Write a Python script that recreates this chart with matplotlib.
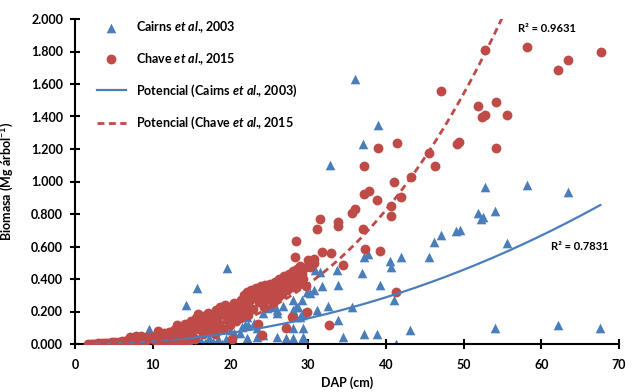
import numpy as np
import matplotlib
matplotlib.use("Agg")
import matplotlib.pyplot as plt

# fuentes: Lato (parecida a Calibri) en negrita
plt.rcParams['font.family'] = ['Lato', 'DejaVu Sans']
plt.rcParams['font.weight'] = 'bold'
plt.rcParams['mathtext.fontset'] = 'custom'
plt.rcParams['mathtext.rm'] = 'Lato:bold'
plt.rcParams['mathtext.it'] = 'Lato:italic:bold'
plt.rcParams['mathtext.bf'] = 'Lato:bold'

# Cairns et al., 2003 (DAP cm, biomasa Mg/arbol)
cairns_dap = [2.6, 3.5, 4.3, 5.2, 6.0, 6.8, 7.3, 8.0, 8.6, 9.5, 10.1, 10.8, 11.6, 12.3,
              12.9, 13.6, 14.2, 14.3, 15.2, 15.2, 15.7, 16.2, 16.7, 17.2, 17.8, 17.8,
              18.4, 18.9, 19.4, 19.5, 19.9, 20.0, 20.4, 20.4, 21.2, 21.5, 21.9, 22.1,
              22.1, 22.3, 22.3, 23.0, 23.4, 23.4, 24.2, 24.2, 24.7, 25.1, 25.5, 26.0,
              26.0, 26.0, 26.8, 27.2, 27.2, 28.1, 28.1, 28.1, 28.1, 28.3, 28.5, 28.5,
              28.7, 29.0, 29.2, 29.2, 29.3, 29.3, 29.4, 29.4, 29.8, 29.8, 30.2, 30.8,
              30.9, 31.1, 31.5, 31.8, 32.6, 32.8, 33.7, 33.8, 33.8, 34.5, 35.6, 36.0,
              36.9, 37.1, 37.2, 37.2, 37.7, 38.8, 39.0, 39.2, 40.5, 40.6, 41.0, 41.3,
              41.9, 43.1, 45.5, 46.2, 47.1, 49.0, 49.5, 51.9, 52.3, 52.5, 52.8, 54.1,
              54.1, 55.6, 58.1, 62.2, 63.5, 67.6]
cairns_bio = [0.002, 0.003, 0.004, 0.005, 0.006, 0.008, 0.010, 0.012, 0.015, 0.090, 0.020,
              0.010, 0.015, 0.005, 0.010, 0.020, 0.005, 0.238, 0.004, 0.076, 0.345, 0.020,
              0.004, 0.040, 0.014, 0.107, 0.030, 0.000, 0.030, 0.468, 0.086, 0.010, 0.014,
              0.070, 0.066, 0.107, 0.117, 0.168, 0.035, 0.025, 0.117, 0.127, 0.097, 0.045,
              0.055, 0.189, 0.220, 0.230, 0.232, 0.209, 0.189, 0.045, 0.234, 0.035, 0.000,
              0.271, 0.209, 0.097, 0.035, 0.000, 0.168, 0.226, 0.230, 0.168, 0.271, 0.178,
              0.097, 0.189, 0.041, 0.035, 0.000, 0.322, 0.312, 0.334, 0.455, 0.209, 0.445,
              0.358, 0.234, 1.102, 0.458, 0.363, 0.150, 0.043, 0.230, 1.629, 0.435, 1.231,
              0.537, 0.064, 0.556, 0.064, 1.348, 0.363, 0.510, 0.472, 0.271, 0.002, 0.533,
              0.088, 0.533, 0.630, 0.671, 0.697, 0.702, 0.808, 0.769, 0.783, 0.966, 0.820,
              0.096, 0.624, 0.976, 0.119, 0.937, 0.096]

# Chave et al., 2015
chave_dap = [1.7, 2.0, 2.3, 2.6, 3.0, 3.3, 3.5, 3.7, 4.0, 4.4, 4.8, 5.0, 5.2, 5.6, 6.0,
             6.4, 6.5, 6.8, 7.1, 7.3, 7.8, 7.9, 8.0, 8.2, 8.5, 8.8, 9.0, 9.3, 9.7, 10.0,
             10.3, 10.5, 10.6, 10.7, 10.9, 11.2, 11.5, 11.6, 11.8, 12.1, 12.4, 12.5, 12.7,
             13.0, 13.1, 13.3, 13.5, 13.6, 13.9, 14.0, 14.2, 14.4, 14.5, 14.6, 14.9, 15.0,
             15.1, 15.3, 15.4,
             15.6, 15.8, 15.9, 16.0, 16.1, 16.3, 16.5, 16.7, 16.9, 17.0, 17.1, 17.3, 17.5,
             17.7, 17.9, 18.0, 18.1, 18.3, 18.5, 18.7, 18.9, 19.1, 19.3, 19.5, 19.7, 19.9,
             20.0, 20.2,
             20.3, 20.5, 20.7, 20.9, 21.1, 21.2, 21.4, 21.6, 21.8, 22.0, 22.1, 22.3, 22.5,
             22.7, 22.9, 23.1, 23.3, 23.5, 23.7, 23.9, 24.0, 24.1, 24.3, 24.5, 24.7, 24.9,
             25.1, 25.3, 25.5, 25.7, 25.9, 26.1, 26.3, 26.5, 26.7, 26.9, 27.1, 27.2, 27.3,
             27.5, 27.7, 27.9, 28.0, 28.1, 28.3, 28.4, 28.5, 28.6, 28.8, 29.0, 29.2, 29.4,
             29.5, 29.7, 29.9, 30.0, 30.2, 30.7, 30.8, 31.1, 31.5, 31.8, 32.7, 32.9, 33.8,
             33.8, 34.5, 35.6, 36.0, 37.0, 37.2, 37.2, 37.3, 37.8, 38.8, 39.0, 39.3, 40.6,
             40.6, 41.1, 41.3, 41.4, 41.9, 43.2, 45.5, 46.3, 47.1, 49.1, 49.4, 51.9, 52.4,
             52.7, 52.8, 54.2, 54.2, 55.6, 58.1, 62.2, 63.5, 67.7]
chave_bio = [0.001, 0.002, 0.002, 0.003, 0.004, 0.005, 0.001, 0.006, 0.007, 0.008, 0.010,
             0.003, 0.012, 0.014, 0.017, 0.019, 0.006, 0.022, 0.045, 0.026, 0.030, 0.050,
             0.010, 0.034, 0.048, 0.038, 0.012, 0.042, 0.046, 0.030,
             0.050, 0.008, 0.020, 0.080, 0.060, 0.040, 0.065, 0.010, 0.030, 0.075, 0.050,
             0.012, 0.085, 0.060, 0.115, 0.030, 0.010, 0.100, 0.070, 0.085, 0.125, 0.045,
             0.015, 0.095, 0.140, 0.050, 0.070, 0.110, 0.030,
             0.160, 0.185, 0.090, 0.110, 0.130, 0.170, 0.060, 0.150, 0.110, 0.120, 0.190,
             0.080, 0.140, 0.175, 0.100, 0.060, 0.210, 0.160, 0.125, 0.225, 0.185, 0.090,
             0.240, 0.150, 0.200, 0.120, 0.230, 0.030,
             0.175, 0.250, 0.140, 0.205, 0.240, 0.160, 0.270, 0.190, 0.300, 0.230,
             0.320, 0.180, 0.270, 0.330, 0.215, 0.300, 0.345, 0.125, 0.260, 0.355, 0.055,
             0.310, 0.230, 0.365, 0.280, 0.330,
             0.370, 0.300, 0.250, 0.380, 0.340, 0.290, 0.400, 0.350, 0.310, 0.420, 0.370,
             0.100, 0.330, 0.430, 0.390, 0.168, 0.350, 0.450, 0.537, 0.635, 0.410, 0.460,
             0.370, 0.480, 0.430, 0.400, 0.470, 0.360, 0.200, 0.520, 0.476, 0.525, 0.496,
             0.710, 0.772, 0.566, 0.117, 0.558, 0.749, 0.726, 0.486, 0.804, 0.829, 0.706,
             1.093, 0.921, 0.583, 0.941, 0.888, 1.205, 0.574, 0.849, 0.790, 1.000, 0.320,
             1.238, 0.903, 1.030, 1.176, 1.096, 1.558, 1.231, 1.245, 1.465, 1.395, 1.410,
             1.810, 1.487, 1.208, 1.411, 1.826, 1.686, 1.746, 1.795]

# lineas de tendencia potencial y = a * x^b
cairns_a, cairns_b = 1.336e-4, 2.08
chave_a, chave_b = 2.694e-5, 2.80
cairns_r2 = "0.7831"
chave_r2 = "0.9631"

azul = "#4A7EBB"
rojo = "#BE4B48"
etal = "$\\mathit{et\\ al.}\\!\\!$"

fig = plt.figure(figsize=(6.38, 3.92), dpi=100)
ax = fig.add_axes([75 / 638, 48 / 392, 544 / 638, 325 / 392])

ax.scatter(cairns_dap, cairns_bio, marker="^", s=48, color=azul, linewidths=0,
           zorder=2, label=f"Cairns {etal}, 2003")
ax.scatter(chave_dap, chave_bio, marker="o", s=50, color=rojo, linewidths=0,
           zorder=3, label=f"Chave {etal}, 2015")

xc = np.linspace(min(cairns_dap), max(cairns_dap), 200)
ax.plot(xc, cairns_a * xc ** cairns_b, color=azul, lw=1.6, zorder=4,
        label=f"Potencial (Cairns {etal}, 2003)")
xh = np.linspace(min(chave_dap), max(chave_dap), 300)
ax.plot(xh, chave_a * xh ** chave_b, color=rojo, lw=2.0, ls=(0, (2.5, 1.6)), zorder=4,
        label=f"Potencial (Chave {etal}, 2015")

ax.text(57.0, 1.94, "R² = " + chave_r2, fontsize=8, fontweight="bold", va="center")
ax.text(61.3, 0.60, "R² = " + cairns_r2, fontsize=8, fontweight="bold", va="center")

ax.set_xlim(0, 70)
ax.set_ylim(0, 2.0)
ax.set_xticks(np.arange(0, 71, 10))
ax.set_yticks(np.arange(0, 2.01, 0.2))
ax.set_yticklabels([f"{v:.3f}" for v in np.arange(0, 2.01, 0.2)])

for s in ["top", "right"]:
    ax.spines[s].set_visible(False)
for s in ["left", "bottom"]:
    ax.spines[s].set_linewidth(1.5)
    ax.spines[s].set_color("black")
ax.tick_params(direction="inout", length=7, width=1.5, labelsize=9, pad=5)
ax.tick_params(axis="x", pad=7)
for lab in ax.get_xticklabels() + ax.get_yticklabels():
    lab.set_fontweight("bold")

ax.set_xlabel("DAP (cm)", fontsize=9, fontweight="bold")
ax.xaxis.set_label_coords(0.5, -0.1)
ax.set_ylabel("Biomasa (Mg árbol$^{-1}$)", fontsize=9, fontweight="bold")
ax.yaxis.set_label_coords(-0.108, 0.5)

ax.legend(loc="upper left", bbox_to_anchor=(0.04, 1.0), frameon=False,
          fontsize=9, labelspacing=1.28, handlelength=2.3, handletextpad=0.8,
          borderaxespad=0, borderpad=0, scatterpoints=1)

fig.savefig("out.png", dpi=100)
